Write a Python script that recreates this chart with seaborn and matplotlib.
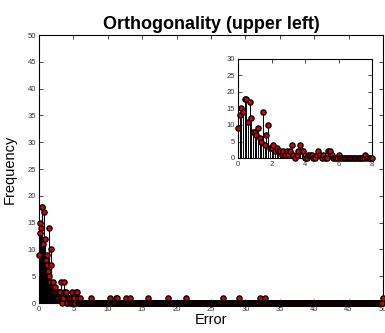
import numpy as np
import matplotlib
matplotlib.use("Agg")
import matplotlib.pyplot as plt
import seaborn as sns

sns.set_style("ticks")
plt.rcParams['font.family'] = ['Liberation Sans', 'DejaVu Sans']
plt.rcParams['text.color'] = 'black'
plt.rcParams['axes.labelcolor'] = 'black'
plt.rcParams['axes.edgecolor'] = 'black'

# Histogram bins: centres every 0.1 from 0 to 50
bin_step = 0.1
bin_max = 50.0

# Counts for bins 0.0 .. 8.0
counts_head = [9, 13, 15, 14, 18, 18, 11, 17, 12, 8,
               8, 7, 9, 6, 5, 14, 4, 7, 10, 3,
               3, 4, 2, 3, 2, 2, 1, 2, 1, 2,
               1, 2, 4, 1, 0, 1, 2, 4, 2, 2,
               0, 0, 1, 1, 1, 0, 0, 1, 2, 1,
               0, 1, 0, 0, 2, 2, 1, 0, 0, 0,
               1, 0, 0, 0, 0, 0, 0, 0, 0, 0,
               0, 0, 0, 0, 0, 0, 1, 0, 0, 0,
               0]
# Sparse tail beyond 8 (error value, count)
tail_x = [10.3, 11.2, 11.3, 12.7, 13.2, 15.9, 18.8, 21.4, 26.7, 29.0, 32.1, 32.8, 50.0]
tail_counts = [1, 1, 1, 1, 1, 1, 1, 1, 1, 1, 1, 1, 1]

centers = np.round(np.arange(0, bin_max + bin_step / 2, bin_step), 1)
counts = np.zeros(len(centers))
counts[:len(counts_head)] = counts_head
for x, c in zip(tail_x, tail_counts):
    counts[int(round(x / bin_step))] = c

W, H = 385, 333
fig = plt.figure(figsize=(W / 100, H / 100), dpi=100)

def px_axes(l, r, t, b):
    return fig.add_axes([l / W, (H - b) / H, (r - l) / W, (b - t) / H])

def stem_panel(ax, xmax, ymax, xticks, yticks, lw, ms):
    keep = centers <= xmax + 1e-9
    xs, ys = centers[keep], counts[keep]
    ax.vlines(xs, 0, ys, colors='black', linewidth=lw, zorder=2)
    sns.lineplot(x=xs, y=ys, ax=ax, linestyle='none', marker='o',
                 markersize=ms, markerfacecolor='#c80000', markeredgecolor='black',
                 markeredgewidth=0.9, estimator=None, color='black', zorder=3)
    for ln in ax.lines:
        ln.set_clip_on(False)
    ax.set_xlim(0, xmax)
    ax.set_ylim(0, ymax)
    ax.set_xticks(xticks)
    ax.set_yticks(yticks)
    ax.tick_params(direction='in', length=3, width=0.5, labelsize=5.5,
                   top=True, right=True, pad=2, colors='black')
    for s in ax.spines.values():
        s.set_linewidth(0.8)
        s.set_visible(True)
    for lab in ax.get_xticklabels() + ax.get_yticklabels():
        lab.set_color('#333333')
    ax.set_facecolor('white')

ax = px_axes(39, 383, 35, 303)
stem_panel(ax, 50, 50, range(0, 51, 5), range(0, 51, 5), 0.8, 3.8)
ax.set_title("Orthogonality (upper left)", fontsize=13, fontweight='bold', pad=4)
ax.set_xlabel("Error", fontsize=10.5, labelpad=0)
ax.set_ylabel("Frequency", fontsize=10.5, labelpad=8)

axi = px_axes(238, 372, 59, 158)
stem_panel(axi, 8, 30, range(0, 9, 2), range(0, 31, 5), 0.7, 3.8)
axi.set_xlabel("")
axi.set_ylabel("")

fig.savefig("out.png", dpi=100)
